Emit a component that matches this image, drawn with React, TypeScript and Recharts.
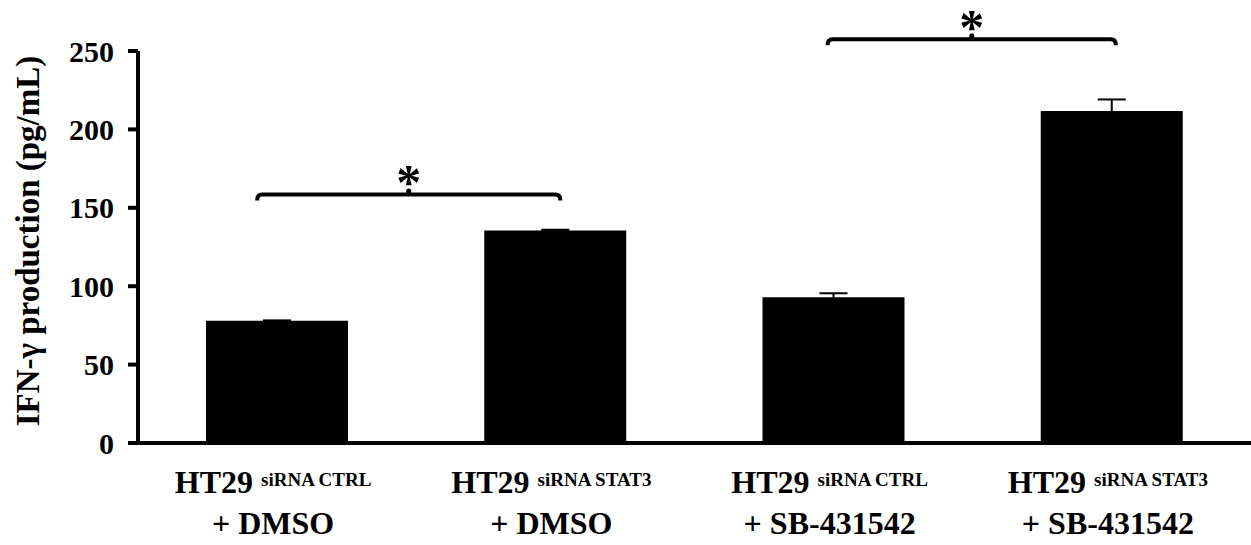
import React from 'react';
import { BarChart, Bar, XAxis, YAxis, ErrorBar, ReferenceLine } from 'recharts';

// ---- data ----
const categories = [
  'HT29 siRNA CTRL + DMSO',
  'HT29 siRNA STAT3 + DMSO',
  'HT29 siRNA CTRL + SB-431542',
  'HT29 siRNA STAT3 + SB-431542',
];
const cellLines = ['HT29', 'HT29', 'HT29', 'HT29'];
const sirnaLabels = ['siRNA CTRL', 'siRNA STAT3', 'siRNA CTRL', 'siRNA STAT3'];
const treatmentLabels = ['+ DMSO', '+ DMSO', '+ SB-431542', '+ SB-431542'];
const ifngValues = [78, 135.5, 93, 211.7];
const ifngErrors = [0.2, 0.5, 2.5, 7.4];
const yTicks = [0, 50, 100, 150, 200, 250];
const yLabel = 'IFN-\u03B3 production (pg/mL)';
const sigFrom = [0, 2];
const sigTo = [1, 3];
const sigLevel = [158.5, 257.5];
const sigMarks = ['*', '*'];

// ---- styles ----
const FONT = "'Liberation Serif', 'Times New Roman', Times, 'DejaVu Serif', serif";
const txt = { fontFamily: FONT, fontWeight: 700 } as React.CSSProperties;
const bracketExtend = [
  { left: -20, right: 5 },
  { left: -6, right: 4 },
];

const data = categories.map((c, i) => ({
  name: c,
  value: ifngValues[i],
  err: ifngErrors[i],
}));

const XTick = (props: any) => {
  const { x, y, payload } = props;
  const i = categories.indexOf(payload.value);
  return (
    <g>
      <text x={x - 4} y={y + 42} textAnchor="middle" style={{ ...txt, fontSize: 32 }} fill="#000">
        <tspan>{cellLines[i]} </tspan>
        <tspan style={{ fontSize: 19 }} dy={-7}>{sirnaLabels[i]}</tspan>
      </text>
      <text x={x - 4} y={y + 83} textAnchor="middle" style={{ ...txt, fontSize: 32 }} fill="#000">
        {treatmentLabels[i]}
      </text>
    </g>
  );
};

const YTick = (props: any) => {
  const { x, y, payload } = props;
  return (
    <text x={x + 2} y={y} textAnchor="end" dominantBaseline="central" style={{ ...txt, fontSize: 30 }} fill="#000">
      {payload.value}
    </text>
  );
};

const makeBracket = (k: number) => (props: any) => {
  const { x1, y1, x2 } = props;
  const ext = bracketExtend[k];
  const a = x1 + ext.left;
  const b = x2 + ext.right;
  const y = y1;
  const m = (a + b) / 2;
  return (
    <g>
      <path
        d={`M${a},${y + 6} Q${a},${y} ${a + 5},${y} L${b - 5},${y} Q${b},${y} ${b},${y + 6}`}
        fill="none"
        stroke="#000"
        strokeWidth={4}
      />
      <ellipse cx={m} cy={y - 3} rx={2.5} ry={3} fill="#000" />
      <text x={m} y={y + 5} textAnchor="middle" style={{ ...txt, fontSize: 50 }} fill="#000">
        {sigMarks[k]}
      </text>
    </g>
  );
};

const YLabel = (props: any) => {
  const vb = props.viewBox || {};
  const cx = 28;
  const cy = (vb.y ?? 51) + (vb.height ?? 392) / 2 - 6;
  return (
    <text
      x={cx}
      y={cy}
      transform={`rotate(-90, ${cx}, ${cy})`}
      textAnchor="middle"
      dominantBaseline="central"
      style={{ ...txt, fontSize: 33 }}
      fill="#000"
    >
      {yLabel}
    </text>
  );
};

export default function App() {
  return (
    <div style={{ position: 'absolute', left: 0, top: 0, width: 1251, height: 545, background: '#fff' }}>
      <BarChart
        width={1251}
        height={545}
        data={data}
        margin={{ top: 51, right: 0, bottom: 0, left: 0 }}
        barSize={142}
      >
        <XAxis
          dataKey="name"
          height={102}
          tickLine={false}
          axisLine={{ stroke: '#000', strokeWidth: 4 }}
          tick={<XTick />}
          interval={0}
        />
        <YAxis
          width={138}
          domain={[0, 250]}
          ticks={yTicks}
          tickSize={10}
          tickMargin={16}
          axisLine={{ stroke: '#000', strokeWidth: 4 }}
          tickLine={{ stroke: '#000', strokeWidth: 4 }}
          tick={<YTick />}
          label={{ content: (p: any) => <YLabel {...p} /> }}
        />
        <Bar dataKey="value" fill="#000" isAnimationActive={false}>
          <ErrorBar dataKey="err" width={14} stroke="#000" strokeWidth={2} direction="y" />
        </Bar>
        {sigFrom.map((f, k) => (
          <ReferenceLine
            key={k}
            ifOverflow="visible"
            segment={[
              { x: categories[f], y: sigLevel[k] },
              { x: categories[sigTo[k]], y: sigLevel[k] },
            ]}
            shape={makeBracket(k)}
          />
        ))}
      </BarChart>
    </div>
  );
}
